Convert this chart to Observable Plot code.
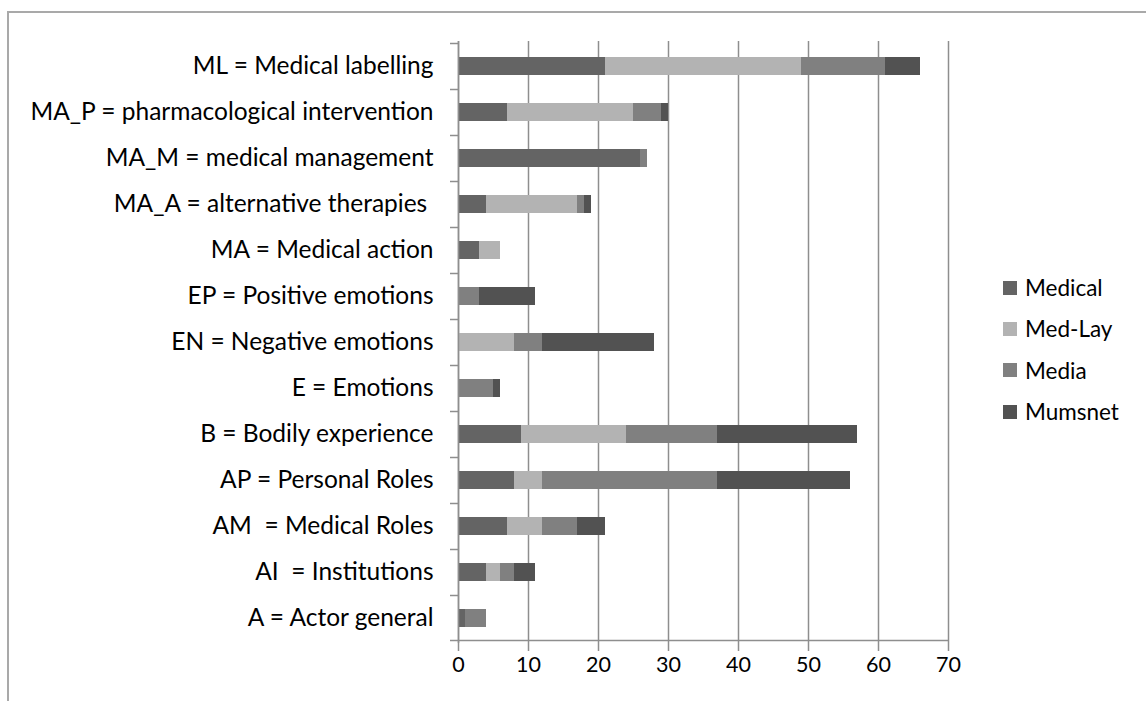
<!DOCTYPE html>
<html><head><meta charset="utf-8">
<script src="https://cdn.jsdelivr.net/npm/d3@7"></script>
<script src="https://cdn.jsdelivr.net/npm/@observablehq/plot@0.6"></script>
<style>
html,body{margin:0;padding:0;background:#fff}
body{width:1146px;height:701px;overflow:hidden;position:relative;font-family:Lato,"Open Sans",sans-serif}
#frame{position:absolute;left:7px;top:11px;width:1300px;height:900px;border-left:2px solid #a9a9a9;border-top:2px solid #a9a9a9;box-sizing:border-box}
#chart{position:absolute;left:0;top:0}
#chart svg text{white-space:pre}
#legend{position:absolute;left:1003px;top:267px}
.li{display:flex;align-items:center;height:41.3px;font-size:22.5px;color:#000}
.sw{width:14px;height:14px;margin-right:8px}
</style></head>
<body>
<div id="frame"></div>
<div id="chart"></div>
<div id="legend"></div>
<script>
const categories = ["ML = Medical labelling", "MA_P = pharmacological intervention", "MA_M = medical management", "MA_A = alternative therapies ", "MA = Medical action", "EP = Positive emotions", "EN = Negative emotions", "E = Emotions", "B = Bodily experience", "AP = Personal Roles", "AM  = Medical Roles", "AI  = Institutions", "A = Actor general"];
const series = ["Medical", "Med-Lay", "Media", "Mumsnet"];
const medical = [21, 7, 26, 4, 3, 0, 0, 0, 9, 8, 7, 4, 1];
const medLay  = [28, 18, 0, 13, 3, 0, 8, 0, 15, 4, 5, 2, 0];
const media   = [12, 4, 1, 1, 0, 3, 4, 5, 13, 25, 5, 2, 3];
const mumsnet = [5, 1, 0, 1, 0, 8, 16, 1, 20, 19, 4, 3, 0];
const xTicks = [0, 10, 20, 30, 40, 50, 60, 70];
const colors = ["#646464", "#b3b3b3", "#808080", "#525252"];

const seriesValues = [medical, medLay, media, mumsnet];
const rows = [];
categories.forEach((c, i) => {
  series.forEach((s, j) => rows.push({category: c, series: s, value: seriesValues[j][i]}));
});

const gridColor = "#8e8e8e";
const chart = Plot.plot({
  width: 1146, height: 701,
  marginLeft: 458, marginRight: 198, marginTop: 41, marginBottom: 58,
  style: {fontFamily: "Lato, 'Open Sans', sans-serif", fontSize: "20px", color: "#000", background: "transparent"},
  x: {domain: [0, 70], label: null},
  y: {domain: categories, paddingInner: 0.6, paddingOuter: 0.3, label: null},
  color: {domain: series, range: colors},
  marks: [
    Plot.gridX(xTicks, {stroke: gridColor, strokeOpacity: 1, strokeWidth: 1.5}),
    Plot.barX(rows, Plot.stackX({x: "value", y: "category", fill: "series"})),
    Plot.ruleX([0], {stroke: gridColor, strokeWidth: 1.5}),
    Plot.axisX(xTicks, {tickSize: 8, tickPadding: 5, stroke: gridColor, strokeWidth: 1.5, label: null, fontSize: 21.5}),
    Plot.axisY({tickSize: 0, tickPadding: 25, label: null, fontSize: 24.5})
  ]
});
document.getElementById("chart").appendChild(chart);

// bottom axis line and category boundary ticks, from the Plot scales
const ys = chart.scale("y");
const xs = chart.scale("x");
const bw = ys.bandwidth;
const step = bw / (1 - 0.6);
const gap = (step - bw) / 2;
const bounds = categories.map(c => ys.apply(c) - gap);
bounds.push(ys.apply(categories[categories.length - 1]) + bw + gap);
const svg = d3.select(chart.tagName.toLowerCase() === "svg" ? chart : chart.querySelector("svg"));
const x0 = xs.apply(0), x70 = xs.apply(70);
const g = svg.append("g").attr("stroke", gridColor).attr("stroke-width", 1.5);
g.selectAll("line.t").data(bounds).join("line")
  .attr("x1", x0 - 8).attr("x2", x0).attr("y1", d => d).attr("y2", d => d);
g.append("line").attr("x1", x0).attr("x2", x70)
  .attr("y1", bounds[bounds.length - 1]).attr("y2", bounds[bounds.length - 1]);

// legend
const color = chart.scale("color");
const leg = d3.select("#legend");
series.forEach(s => {
  const it = leg.append("div").attr("class", "li");
  it.append("div").attr("class", "sw").style("background", color.apply(s));
  it.append("span").text(s);
});
</script>
</body></html>
